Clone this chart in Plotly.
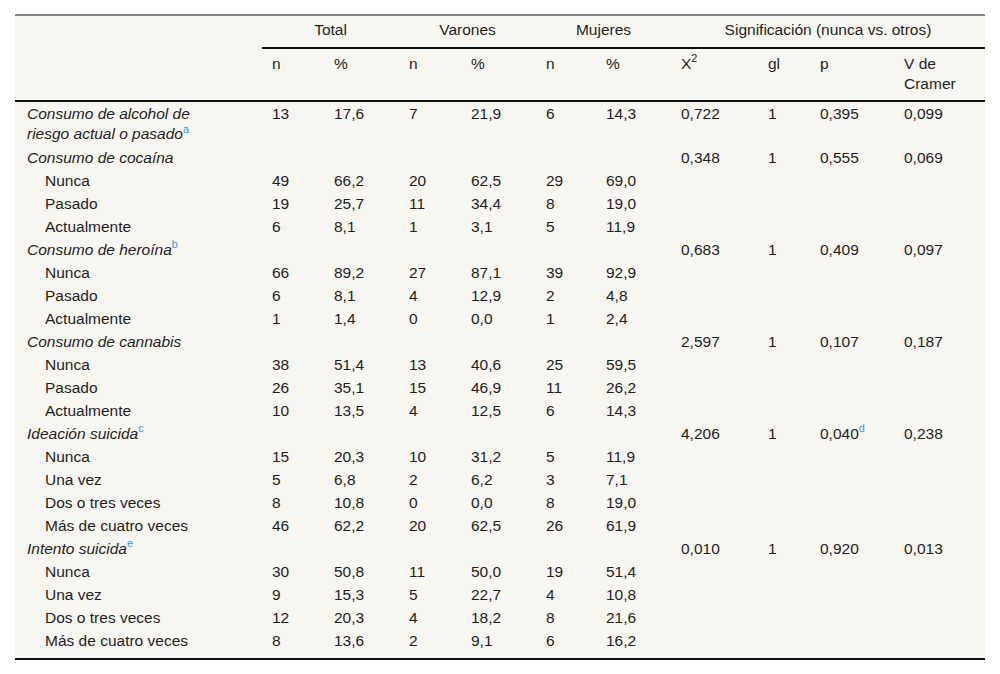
import plotly.graph_objects as go

# filas de la tabla
labels = [
    "Consumo de alcohol de<br>riesgo actual o pasado",
    "Consumo de cocaína", "Nunca", "Pasado", "Actualmente",
    "Consumo de heroína", "Nunca", "Pasado", "Actualmente",
    "Consumo de cannabis", "Nunca", "Pasado", "Actualmente",
    "Ideación suicida", "Nunca", "Una vez", "Dos o tres veces", "Más de cuatro veces",
    "Intento suicida", "Nunca", "Una vez", "Dos o tres veces", "Más de cuatro veces",
]
is_group = [True, True, False, False, False, True, False, False, False,
            True, False, False, False, True, False, False, False, False,
            True, False, False, False, False]
label_notes = ["a", "", "", "", "", "b", "", "", "", "", "", "", "",
               "c", "", "", "", "", "e", "", "", "", ""]

total_n = [13, None, 49, 19, 6, None, 66, 6, 1, None, 38, 26, 10,
           None, 15, 5, 8, 46, None, 30, 9, 12, 8]
total_pct = [17.6, None, 66.2, 25.7, 8.1, None, 89.2, 8.1, 1.4, None, 51.4, 35.1, 13.5,
             None, 20.3, 6.8, 10.8, 62.2, None, 50.8, 15.3, 20.3, 13.6]
var_n = [7, None, 20, 11, 1, None, 27, 4, 0, None, 13, 15, 4,
         None, 10, 2, 0, 20, None, 11, 5, 4, 2]
var_pct = [21.9, None, 62.5, 34.4, 3.1, None, 87.1, 12.9, 0.0, None, 40.6, 46.9, 12.5,
           None, 31.2, 6.2, 0.0, 62.5, None, 50.0, 22.7, 18.2, 9.1]
muj_n = [6, None, 29, 8, 5, None, 39, 2, 1, None, 25, 11, 6,
         None, 5, 3, 8, 26, None, 19, 4, 8, 6]
muj_pct = [14.3, None, 69.0, 19.0, 11.9, None, 92.9, 4.8, 2.4, None, 59.5, 26.2, 14.3,
           None, 11.9, 7.1, 19.0, 61.9, None, 51.4, 10.8, 21.6, 16.2]
chi2 = [0.722, 0.348, None, None, None, 0.683, None, None, None, 2.597, None, None, None,
        4.206, None, None, None, None, 0.010, None, None, None, None]
gl = [1, 1, None, None, None, 1, None, None, None, 1, None, None, None,
      1, None, None, None, None, 1, None, None, None, None]
p_val = [0.395, 0.555, None, None, None, 0.409, None, None, None, 0.107, None, None, None,
         0.040, None, None, None, None, 0.920, None, None, None, None]
p_notes = ["", "", "", "", "", "", "", "", "", "", "", "", "",
           "d", "", "", "", "", "", "", "", "", ""]
cramer_v = [0.099, 0.069, None, None, None, 0.097, None, None, None, 0.187, None, None, None,
            0.238, None, None, None, None, 0.013, None, None, None, None]

group_headers = ["Total", "Varones", "Mujeres", "Significación (nunca vs. otros)"]
col_headers = ["n", "%", "n", "%", "n", "%", "X<sup>2</sup>", "gl", "p", "V de<br>Cramer"]

FONT = "Liberation Sans, Arial, sans-serif"
FS = 15.5
TXT = "#1e1e1e"
NOTE = "#3a97d4"
BG = "#f8f6f1"

# bordes de columna (px)
col_edges = [15, 262, 324, 399, 461, 536, 596, 671, 758, 810, 894, 985]
PAD = 10
LEFT, RIGHT = col_edges[0], col_edges[-1]


def fmt(v, dec):
    if v is None:
        return ""
    if dec == 0:
        return str(v)
    return f"{v:.{dec}f}".replace(".", ",")


def note(s):
    return f"<sup><span style='color:{NOTE}'>{s}</span></sup>" if s else ""


# posiciones verticales de las filas
ROW_H = 23
LINE_H = 21
row_y = []
y = 115
for lab in labels:
    row_y.append(y)
    y += ROW_H + lab.count("<br>") * LINE_H

fig = go.Figure()

# etiquetas de fila
lab_text = [
    (f"<i>{lab}</i>" if g else lab) + note(n)
    for lab, g, n in zip(labels, is_group, label_notes)
]
lab_x = [27 if g else 45 for g in is_group]
lab_y = [ry + lab.count("<br>") * LINE_H / 2 for ry, lab in zip(row_y, labels)]
fig.add_trace(go.Scatter(x=lab_x, y=lab_y, text=lab_text, mode="text",
                         textposition="middle right", hoverinfo="skip"))

columns = [
    [fmt(v, 0) for v in total_n],
    [fmt(v, 1) for v in total_pct],
    [fmt(v, 0) for v in var_n],
    [fmt(v, 1) for v in var_pct],
    [fmt(v, 0) for v in muj_n],
    [fmt(v, 1) for v in muj_pct],
    [fmt(v, 3) for v in chi2],
    [fmt(v, 0) for v in gl],
    [fmt(v, 3) + note(n) if v is not None else "" for v, n in zip(p_val, p_notes)],
    [fmt(v, 3) for v in cramer_v],
]
for i, col in enumerate(columns):
    x0 = col_edges[i + 1] + PAD
    ys = [ry for ry, t in zip(row_y, col) if t]
    ts = [t for t in col if t]
    fig.add_trace(go.Scatter(x=[x0] * len(ts), y=ys, text=ts, mode="text",
                             textposition="middle right", hoverinfo="skip"))

# cabecera
spans = [(1, 3), (3, 5), (5, 7), (7, 11)]
fig.add_trace(go.Scatter(
    x=[(col_edges[a] + col_edges[b]) / 2 for a, b in spans], y=[31] * 4,
    text=group_headers, mode="text", textposition="middle center", hoverinfo="skip"))
fig.add_trace(go.Scatter(
    x=[col_edges[i + 1] + PAD for i in range(len(col_headers))],
    y=[65 + h.count("<br>") * LINE_H / 2 for h in col_headers],
    text=col_headers, mode="text", textposition="middle right", hoverinfo="skip"))

fig.update_traces(textfont=dict(family=FONT, size=FS, color=TXT))

bottom = row_y[-1] + 17
shapes = [
    dict(type="rect", x0=LEFT, x1=RIGHT, y0=15, y1=bottom, fillcolor=BG, line_width=0, layer="below"),
    dict(type="line", x0=LEFT, x1=RIGHT, y0=15, y1=15, line=dict(color="#111", width=1)),
    dict(type="line", x0=col_edges[1], x1=RIGHT, y0=48, y1=48, line=dict(color="#111", width=2)),
    dict(type="line", x0=LEFT, x1=RIGHT, y0=101, y1=101, line=dict(color="#111", width=2)),
    dict(type="line", x0=LEFT, x1=RIGHT, y0=bottom, y1=bottom, line=dict(color="#111", width=2)),
]

fig.update_layout(
    width=1000, height=674,
    margin=dict(l=0, r=0, t=0, b=0),
    paper_bgcolor="white", plot_bgcolor="white",
    showlegend=False,
    shapes=shapes,
    xaxis=dict(range=[0, 1000], visible=False, fixedrange=True),
    yaxis=dict(range=[674, 0], visible=False, fixedrange=True),
)

# sin margen del body para que la tabla quede en su sitio
fig.write_html("out.html", config={"displayModeBar": False},
               post_script="document.body.style.margin='0';")
